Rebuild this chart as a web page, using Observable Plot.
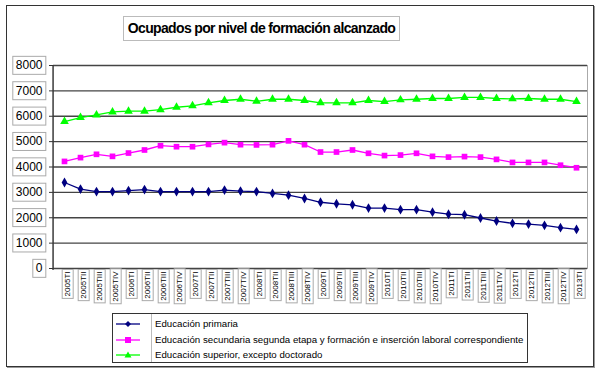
<!DOCTYPE html>
<html>
<head>
<meta charset="utf-8">
<script src="https://cdn.jsdelivr.net/npm/d3@7"></script>
<script src="https://cdn.jsdelivr.net/npm/@observablehq/plot@0.6"></script>
<style>
  html, body { margin: 0; padding: 0; background: #fff; }
  #wrap { position: relative; width: 600px; height: 370px; font-family: "Liberation Sans", Arial, sans-serif; }
  #chart { position: absolute; left: 0; top: 0; }
  #frame { position: absolute; left: 6px; top: 5px; width: 586px; height: 360px; border: 1px solid #333; box-shadow: 1px 1px 0 #999; pointer-events: none; }
  #title { position: absolute; left: 123px; top: 16px; width: 275px; height: 23px; border: 1px solid #bbb; font-weight: bold; font-size: 14px; letter-spacing: -0.65px; line-height: 23px; text-align: center; color: #000; background: #fff; white-space: nowrap; }
  #legend { position: absolute; left: 112px; top: 313px; width: 414px; height: 48px; border: 1px solid #333; background: #fff; font-size: 9.7px; color: #000; }
  #legend .div { position: absolute; left: 38px; top: 0; bottom: 0; border-left: 1px solid #bbb; }
  #legend .row { position: absolute; left: 0; height: 16px; line-height: 16px; white-space: nowrap; }
  #legend .row svg { position: absolute; left: 2px; top: 0; }
  #legend .row span { position: absolute; left: 42px; top: 0; }
</style>
</head>
<body>
<div id="wrap">
  <div id="chart"></div>
  <div id="frame"></div>
  <div id="title">Ocupados por nivel de formación alcanzado</div>
  <div id="legend"></div>
</div>
<script>
const quarters = [
  "2005TI","2005TII","2005TIII","2005TIV",
  "2006TI","2006TII","2006TIII","2006TIV",
  "2007TI","2007TII","2007TIII","2007TIV",
  "2008TI","2008TII","2008TIII","2008TIV",
  "2009TI","2009TII","2009TIII","2009TIV",
  "2010TI","2010TII","2010TIII","2010TIV",
  "2011TI","2011TII","2011TIII","2011TIV",
  "2012TI","2012TII","2012TIII","2012TIV",
  "2013TI"
];
const primaria = [3390,3130,3030,3030,3070,3110,3030,3030,3030,3030,3090,3050,3030,2960,2890,
  2760,2610,2550,2510,2380,2380,2320,2320,2220,2140,2120,1990,1870,1780,1750,1700,1610,1540];
const secundaria = [4220,4370,4500,4420,4550,4670,4840,4800,4800,4890,4960,4880,4870,4880,5030,
  4880,4590,4590,4670,4540,4450,4470,4540,4420,4390,4410,4390,4300,4180,4180,4180,4070,3970];
const superior = [5790,5950,6050,6170,6200,6200,6260,6355,6410,6530,6620,6670,6590,6670,6670,
  6620,6530,6530,6530,6620,6580,6645,6670,6700,6700,6740,6740,6700,6685,6700,6670,6670,6580];
const seriesNames = [
  "Educación primaria",
  "Educación secundaria segunda etapa y formación e inserción laboral correspondiente",
  "Educación superior, excepto doctorado"
];
const seriesColors = ["#000080", "#ff00ff", "#00ff00"];
const seriesSymbols = ["diamond", "square", "triangle"];
const yTicks = [0,1000,2000,3000,4000,5000,6000,7000,8000];

const allValues = [primaria, secundaria, superior];
const rows = (vals) => quarters.map((q, i) => ({q, v: vals[i]}));

const marks = [
  Plot.frame({stroke: "#aaa"}),
  Plot.ruleY(yTicks, {stroke: "#444", strokeWidth: 1.3}),
  Plot.axisY({ticks: yTicks, tickSize: 4, tickPadding: 7, fontSize: 12, tickFormat: d => String(d), label: null, stroke: "#333"}),
  Plot.axisX({tickSize: 0, tickPadding: 3, rotate: -90, textAnchor: "end", fontSize: 8, label: null})
];
allValues.forEach((vals, k) => {
  marks.push(Plot.line(rows(vals), {x: "q", y: "v", stroke: seriesColors[k], strokeWidth: 1.3}));
  marks.push(Plot.dot(rows(vals), {x: "q", y: "v", fill: seriesColors[k], stroke: "none", symbol: seriesSymbols[k], r: k === 0 ? 3 : 3.2}));
});

const chart = Plot.plot({
  width: 600,
  height: 370,
  marginLeft: 53,
  marginRight: 13,
  marginTop: 65,
  marginBottom: 102,
  style: {fontFamily: "'Liberation Sans', Arial, sans-serif", background: "transparent", color: "#000"},
  x: {type: "point", domain: quarters, padding: 0.5},
  y: {domain: [0, 8000]},
  marks
});
document.getElementById("chart").appendChild(chart);

// left axis line
(function(){
  const ns = "http://www.w3.org/2000/svg";
  const line = document.createElementNS(ns, "line");
  line.setAttribute("x1", 53); line.setAttribute("x2", 53);
  line.setAttribute("y1", 65); line.setAttribute("y2", 270);
  line.setAttribute("stroke", "#333"); line.setAttribute("stroke-width", 1.3);
  chart.appendChild(line);
})();

// boxes behind tick labels
function boxLabels(selector, px, py) {
  chart.querySelectorAll(selector).forEach(t => {
    const bb = t.getBBox();
    const r = document.createElementNS("http://www.w3.org/2000/svg", "rect");
    r.setAttribute("x", bb.x - px);
    r.setAttribute("y", bb.y - py);
    r.setAttribute("width", bb.width + 2 * px);
    r.setAttribute("height", bb.height + 2 * py);
    r.setAttribute("fill", "#fff");
    r.setAttribute("stroke", "#aaa");
    r.setAttribute("stroke-width", 1);
    const tr = t.getAttribute("transform");
    if (tr) r.setAttribute("transform", tr);
    t.parentNode.insertBefore(r, t);
  });
}
boxLabels('g[aria-label="y-axis tick label"] text', 3, 2);
boxLabels('g[aria-label="x-axis tick label"] text', 2, 1);

// legend
const legend = document.getElementById("legend");
legend.innerHTML = '<div class="div"></div>';
seriesNames.forEach((name, k) => {
  const row = document.createElement("div");
  row.className = "row";
  row.style.top = (2 + k * 15.5) + "px";
  row.style.width = "414px";
  const c = seriesColors[k];
  let sym;
  if (k === 0) sym = `<path d="M13,5 L16,8 L13,11 L10,8 Z" fill="${c}"/>`;
  else if (k === 1) sym = `<rect x="10" y="5" width="6" height="6" fill="${c}"/>`;
  else sym = `<path d="M13,4.5 L16.5,10.5 L9.5,10.5 Z" fill="${c}"/>`;
  row.innerHTML = `<svg width="28" height="16"><line x1="1" x2="25" y1="8" y2="8" stroke="${c}" stroke-width="1.3"/>${sym}</svg><span>${name}</span>`;
  legend.appendChild(row);
});
</script>
</body>
</html>
